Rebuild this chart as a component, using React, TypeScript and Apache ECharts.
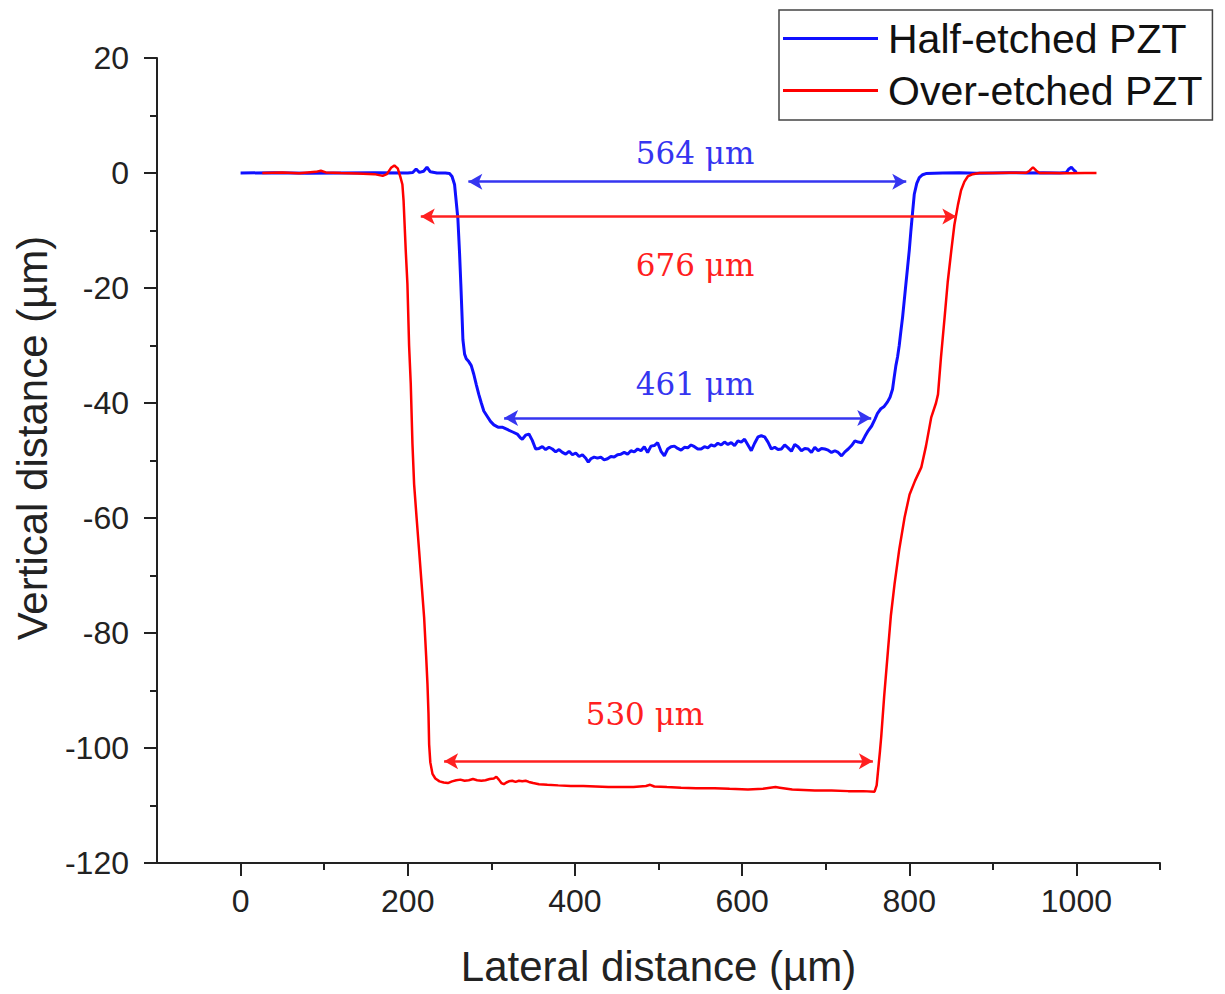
import React, { useEffect, useRef } from "react";
import * as echarts from "echarts";

const xTickValues = [0, 200, 400, 600, 800, 1000];
const xMinorTickValues = [100, 300, 500, 700, 900, 1100];

const halfName = "Half-etched PZT";
const overName = "Over-etched PZT";

const halfX = [0, 40, 80, 120, 160, 200, 206, 210, 214, 219, 223, 227, 235, 245, 250, 253, 256, 258, 260, 262, 263.5, 265, 266, 268, 270, 273, 276, 279, 282, 285, 288, 291, 295, 299, 303, 308, 313, 319, 325, 331, 335, 337, 341, 345, 349, 353, 357, 361, 365, 369, 373, 377, 381, 385, 389, 393, 397, 401, 405, 409, 413, 416, 419, 423, 427, 431, 435, 439, 443, 447, 451, 455, 459, 463, 467, 471, 475, 479, 483, 487, 491, 495, 499, 503, 507, 511, 515, 519, 523, 527, 531, 535, 539, 543, 547, 551, 555, 559, 563, 567, 571, 575, 579, 583, 587, 591, 595, 599, 603, 607, 611, 615, 619, 623, 627, 631, 635, 639, 643, 647, 651, 655, 659, 663, 667, 671, 675, 679, 683, 687, 691, 695, 699, 703, 707, 711, 715, 719, 723, 727, 731, 735, 739, 743, 747, 751, 755, 759, 762, 766, 770, 774, 777, 780, 782, 784, 786, 788, 790, 792, 794, 796, 798, 800, 802, 804, 806, 809, 812, 816, 820, 840, 860, 880, 900, 920, 940, 960, 980, 988, 991, 994, 997, 1000];
const halfY = [0, 0.05, -0.05, 0, 0.05, 0, 0.1, 0.7, 0.1, 0.3, 1.0, 0.2, 0, 0, -0.1, -0.6, -2, -5, -8, -14, -19.3, -25, -29, -31.5, -32.3, -32.8, -33.5, -35, -36.8, -38.5, -40, -41.4, -42.3, -43.2, -43.8, -44.2, -44.2, -44.6, -45, -45.4, -46.1, -46.3, -45.6, -45.4, -46.5, -48, -47.9, -47.6, -48.1, -47.7, -48.0, -48.5, -48.1, -48.6, -48.9, -48.4, -49.0, -48.7, -49.3, -49.0, -49.6, -50.3, -49.7, -49.4, -49.6, -49.4, -49.9, -49.7, -49.3, -49.4, -49.0, -48.9, -48.6, -48.9, -48.3, -48.5, -48.0, -48.3, -47.6, -48.6, -47.5, -47.4, -46.9, -48.4, -49.2, -48.0, -47.6, -47.5, -47.9, -48.2, -47.7, -47.8, -47.3, -47.6, -48.0, -48.0, -47.6, -47.8, -47.3, -47.5, -47.0, -47.3, -46.8, -47.2, -46.9, -47.4, -46.6, -46.8, -46.3, -47.3, -48.3, -47.0, -45.9, -45.7, -45.9, -46.8, -48.0, -47.7, -48.1, -48.0, -47.3, -47.8, -48.4, -47.2, -47.6, -48.3, -47.9, -48.0, -48.6, -47.7, -48.3, -47.9, -48.0, -48.2, -48.6, -48.3, -48.6, -49.2, -48.5, -48.0, -47.4, -46.6, -46.8, -46.9, -45.8, -44.8, -44.0, -42.8, -41.8, -41.0, -40.6, -39.8, -39.0, -37.6, -35.5, -33.5, -32.0, -30.0, -27.5, -25.1, -22.2, -19.3, -16.4, -13.5, -10, -6.8, -3.7, -1.8, -0.8, -0.3, -0.1, 0, 0.05, -0.05, 0, 0.05, 0, 0.05, 0, 0.1, 0.7, 1.0, 0.5, 0.1];

const overX = [26, 50, 70, 90, 96, 102, 120, 140, 160, 170, 175, 180, 184, 188, 191, 193.6, 195, 197.6, 199.6, 201.6, 203.6, 205.6, 207.6, 210.6, 213.6, 216.6, 219.6, 222, 223.6, 224.8, 225.6, 227, 229.6, 233, 238, 243, 248, 253, 258, 263, 268, 273, 278, 283, 288, 293, 298, 303, 306, 309, 312, 315, 318, 321, 325, 329, 333, 337, 341, 345, 350, 357, 367, 380, 395, 410, 425, 440, 455, 470, 485, 490, 495, 510, 527, 545, 567, 585, 607, 625, 640, 645, 660, 687, 707, 727, 745, 758.5, 761, 763, 765, 766.5, 770, 774.5, 778, 782.4, 788, 794.4, 800.4, 807, 814.4, 820, 826.3, 832, 834.4, 838, 842.3, 846, 850.3, 854, 858.3, 862, 866, 870, 876, 884, 900, 920, 940, 944, 948, 952, 956, 970, 990, 1010, 1024];
const overY = [0, 0.1, -0.05, 0.2, 0.4, 0.1, 0, -0.1, -0.2, -0.5, -0.2, 0.9, 1.3, 0.8, -0.6, -2, -4.8, -13.5, -19.3, -30, -36.7, -47, -54.1, -60, -65.7, -71.5, -77.3, -84, -88.9, -94, -99.4, -102.5, -104.5, -105.3, -105.8, -106, -106.1, -105.8, -105.6, -105.5, -105.7, -105.6, -105.4, -105.6, -105.7, -105.6, -105.4, -105.3, -105, -105.5, -106.1, -106.3, -106.0, -105.8, -105.7, -105.9, -105.7, -105.8, -105.7, -105.9, -106.1, -106.3, -106.4, -106.5, -106.6, -106.6, -106.7, -106.8, -106.8, -106.8, -106.6, -106.4, -106.7, -106.8, -106.9, -107.0, -107.0, -107.1, -107.2, -107.1, -106.8, -106.9, -107.2, -107.4, -107.4, -107.5, -107.5, -107.6, -106.5, -103.5, -100.5, -98, -91, -83.1, -77, -71.5, -65.5, -59.9, -55.9, -53.5, -51.2, -47.5, -42.5, -40, -38.5, -32, -25.1, -19, -13.5, -9, -5.5, -3.0, -1.5, -0.6, -0.2, 0, 0, 0.05, 0.05, 0.4, 1.0, 0.4, 0, 0, -0.05, 0, 0];

// width annotations (double arrows) and their labels
const spanLabels = ["564 μm", "676 μm", "461 μm", "530 μm"];
const spanIsHalf = [true, false, true, false];
const spanStartX = [272.5, 215.6, 315.3, 243.5];
const spanEndX = [796.4, 856.3, 754.5, 756.5];
const spanY = [-1.5, -7.55, -42.6, -102.3];
const labelX = [543.7, 543.7, 543.7, 483.8];
const labelY = [3.5, -16.0, -36.75, -94.0];

const HALF_COLOR = "#1010ff";
const OVER_COLOR = "#ff0000";
const HALF_ANN = "#3535f0";
const OVER_ANN = "#ff2020";

const SANS = "'Liberation Sans', Arial, sans-serif";

export default function App() {
  const ref = useRef<HTMLDivElement>(null);
  useEffect(() => {
    if (!ref.current) return;
    const chart = echarts.init(ref.current, null, { renderer: "svg" });
    const halfData = halfX.map((x, i) => [x, halfY[i]]);
    const overData = overX.map((x, i) => [x, overY[i]]);
    const spans = spanLabels.map((_, i) => i);
    const mk = (half: boolean) => ({
      silent: true,
      symbol: ["arrow", "arrow"],
      symbolSize: [12, 14],
      label: { show: false },
      emphasis: { disabled: true },
      lineStyle: { color: half ? HALF_ANN : OVER_ANN, width: 2.5, type: "solid", opacity: 1 },
      data: spans
        .filter((i) => spanIsHalf[i] === half)
        .map((i) => [{ coord: [spanStartX[i], spanY[i]] }, { coord: [spanEndX[i], spanY[i]] }]),
    });
    chart.setOption({
      animation: false,
      backgroundColor: "#fff",
      grid: { left: 157, right: 65, top: 58, bottom: 131, containLabel: false },
      legend: {
        data: [halfName, overName],
        orient: "vertical",
        left: 779,
        top: 10,
        padding: [8, 10, 9, 4],
        icon: "rect",
        itemWidth: 95,
        itemHeight: 3,
        itemGap: 11,
        borderColor: "#444",
        borderWidth: 1.5,
        backgroundColor: "#fff",
        selectedMode: false,
        textStyle: { fontSize: 41, lineHeight: 40, color: "#111", fontFamily: SANS, padding: [0, 0, 0, 5] },
      },
      xAxis: [
        {
          type: "value",
          min: -100,
          max: 1100,
          axisLine: { show: true, onZero: false, lineStyle: { color: "#222", width: 2 } },
          splitLine: { show: false },
          axisTick: { show: true, length: 13, customValues: xTickValues, lineStyle: { color: "#222", width: 2 } },
          axisLabel: {
            show: true,
            customValues: xTickValues,
            formatter: (v: number) => String(v),
            margin: 22,
            fontSize: 32,
            color: "#222",
            fontFamily: SANS,
          },
          name: "Lateral distance (µm)",
          nameLocation: "middle",
          nameGap: 82,
          nameTextStyle: { fontSize: 42, color: "#222", fontFamily: SANS },
        },
        {
          type: "value",
          min: -100,
          max: 1100,
          position: "bottom",
          axisLine: { show: false, onZero: false },
          splitLine: { show: false },
          axisTick: { show: true, length: 7, customValues: xMinorTickValues, lineStyle: { color: "#222", width: 2 } },
          axisLabel: { show: false },
        },
      ],
      yAxis: {
        type: "value",
        min: -120,
        max: 20,
        interval: 20,
        axisLine: { show: true, onZero: false, lineStyle: { color: "#222", width: 2 } },
        splitLine: { show: false },
        axisTick: { show: true, length: 13, lineStyle: { color: "#222", width: 2 } },
        minorTick: { show: true, splitNumber: 2, length: 7, lineStyle: { color: "#222", width: 2 } },
        axisLabel: { margin: 28, fontSize: 32, color: "#222", fontFamily: SANS },
      },
      graphic: [
        {
          type: "text",
          x: 32,
          y: 438,
          rotation: Math.PI / 2,
          style: {
            text: "Vertical distance (µm)",
            fontSize: 42,
            fontFamily: SANS,
            fill: "#222",
            align: "center",
            verticalAlign: "middle",
            textAlign: "center",
            textVerticalAlign: "middle",
          },
        },
      ],
      series: [
        {
          name: halfName,
          type: "line",
          data: halfData,
          symbol: "none",
          lineStyle: { color: HALF_COLOR, width: 3 },
          itemStyle: { color: HALF_COLOR },
          silent: true,
          markLine: mk(true),
        },
        {
          name: overName,
          type: "line",
          data: overData,
          symbol: "none",
          lineStyle: { color: OVER_COLOR, width: 2.5 },
          itemStyle: { color: OVER_COLOR },
          silent: true,
          markLine: mk(false),
        },
        {
          name: "labels",
          type: "scatter",
          symbolSize: 0,
          silent: true,
          z: 5,
          itemStyle: { opacity: 1 },
          data: spans.map((i) => ({
            name: spanLabels[i],
            value: [labelX[i], labelY[i]],
            label: { color: spanIsHalf[i] ? HALF_ANN : OVER_ANN },
          })),
          label: {
            show: true,
            position: "inside",
            formatter: "{b}",
            fontSize: 31,
            opacity: 1,
            fontFamily: "'DejaVu Serif', 'Liberation Serif', serif",
          },
        },
      ],
    });
    return () => chart.dispose();
  }, []);
  return (
    <div
      ref={ref}
      style={{ position: "fixed", left: 0, top: 0, width: 1225, height: 994, background: "#fff" }}
    />
  );
}
